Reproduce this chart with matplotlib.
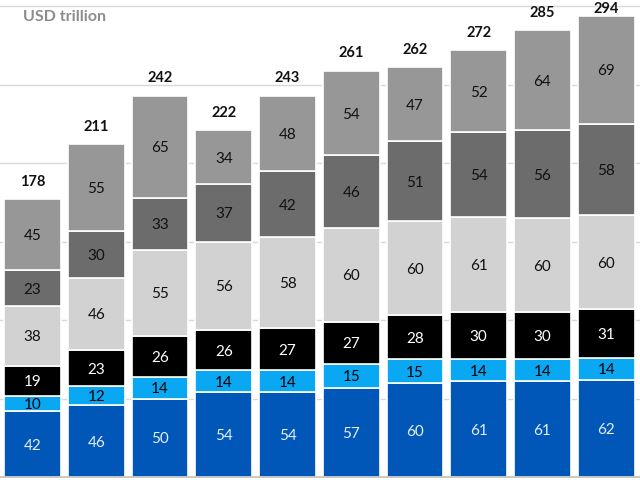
import numpy as np
from matplotlib import pyplot as plt

totals = [178, 211, 242, 222, 243, 261, 262, 272, 285, 294]
seg_blue = [42, 46, 50, 54, 54, 57, 60, 61, 61, 62]
seg_light_blue = [10, 12, 14, 14, 14, 15, 15, 14, 14, 14]
seg_black = [19, 23, 26, 26, 27, 27, 28, 30, 30, 31]
seg_light_gray = [38, 46, 55, 56, 58, 60, 60, 61, 60, 60]
seg_dark_gray = [23, 30, 33, 37, 42, 46, 51, 54, 56, 58]
seg_mid_gray = [45, 55, 65, 34, 48, 54, 47, 52, 64, 69]

series = [seg_blue, seg_light_blue, seg_black, seg_light_gray, seg_dark_gray, seg_mid_gray]
colors = ['#0057b8', '#0aa8f2', '#000000', '#d2d2d2', '#6c6c6c', '#979797']
text_colors = ['#e6eefa', '#000000', '#ffffff', '#111111', '#111111', '#111111']

plt.rcParams['font.family'] = ['Lato', 'DejaVu Sans']

fig = plt.figure(figsize=(6.4, 4.8), dpi=100)
ax = fig.add_axes([0, 0.006, 1, 0.994])

x = np.arange(len(totals))
bottom = np.zeros(len(totals))
for vals, col, tcol in zip(series, colors, text_colors):
    vals = np.array(vals)
    ax.bar(x, vals, bottom=bottom, width=0.89, color=col, edgecolor='white',
           linewidth=1.2, zorder=2)
    for xi, b, v in zip(x, bottom, vals):
        ax.text(xi, b + v / 2 - 1, str(v), ha='center', va='center',
                fontsize=11, color=tcol, zorder=3)
    bottom = bottom + vals

# totals above the bars, kept inside the plot at the top
for xi, b, t in zip(x, bottom, totals):
    ax.text(xi, min(b + 11, 298), str(t), ha='center', va='center', fontsize=10.5,
            fontweight='bold', color='#111111')

ax.set_xlim(-0.51, 9.53)
ax.set_ylim(0, 304)
ax.set_yticks(np.arange(50, 301, 50))
ax.yaxis.grid(True, color='#d9d9d9', linewidth=1, zorder=0)
ax.tick_params(left=False, bottom=False, labelleft=False, labelbottom=False)
for s in ['top', 'right', 'left']:
    ax.spines[s].set_visible(False)
ax.spines['bottom'].set_color('#bfbfbf')
ax.spines['bottom'].set_linewidth(1.2)

fig.text(0.036, 0.965, 'USD trillion', ha='left', va='center', fontsize=11.5,
         fontweight='bold', color='#8c8c8c')

fig.savefig('out.png', dpi=100)
